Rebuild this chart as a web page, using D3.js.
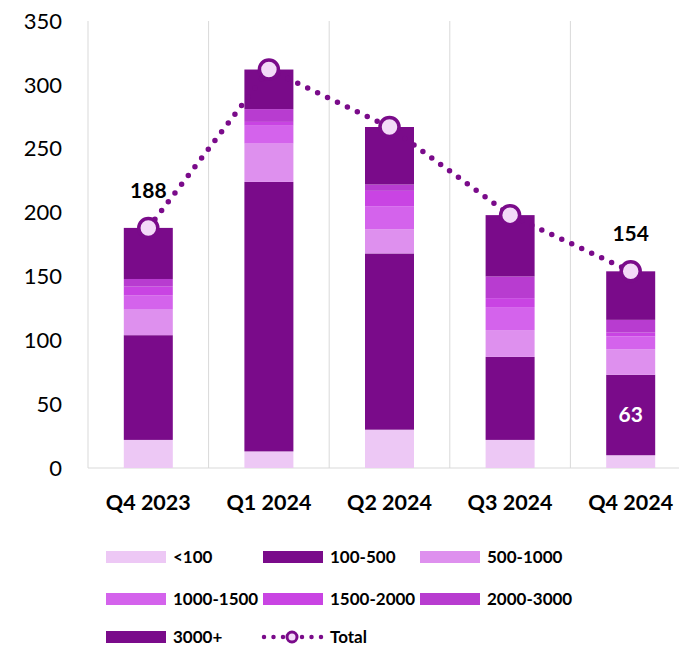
<!DOCTYPE html>
<html>
<head>
<meta charset="utf-8">
<script src="https://cdn.jsdelivr.net/npm/d3@7"></script>
<style>
  html, body { margin: 0; padding: 0; background: #fff; }
  svg { display: block; font-family: Lato, "Open Sans", sans-serif; }
</style>
</head>
<body>
<svg id="chart" width="679" height="648"></svg>
<script>
// Quarters on the x axis
const quarters = ["Q4 2023", "Q1 2024", "Q2 2024", "Q3 2024", "Q4 2024"];

// Stack segments, bottom to top
const seriesNames = ["<100", "100-500", "500-1000", "1000-1500", "1500-2000", "2000-3000", "3000+"];
const seriesColors = ["#EDC8F5", "#7A0B8A", "#DE90EE", "#D463EC", "#C944E3", "#B83CD0", "#7A0B8A"];

const under100   = [22, 13, 30, 22, 10];
const s100to500  = [82, 211, 138, 65, 63];
const s500to1000 = [20, 30, 19, 21, 20];
const s1000to1500 = [11, 14, 18, 18, 10];
const s1500to2000 = [7, 3, 12, 7, 3];
const s2000to3000 = [6, 10, 5, 17, 10];
const over3000   = [40, 31, 45, 48, 38];

const seriesValues = [under100, s100to500, s500to1000, s1000to1500, s1500to2000, s2000to3000, over3000];

// Totals per quarter (the dotted line)
const totals = quarters.map((q, i) => d3.sum(seriesValues, s => s[i]));

const yTicks = [0, 50, 100, 150, 200, 250, 300, 350];

const svg = d3.select("#chart");
const margin = { left: 88, top: 21, bottom: 468 };
const bandWidth = 120.6;

const x = d3.scaleBand()
  .domain(quarters)
  .range([margin.left, margin.left + bandWidth * quarters.length])
  .paddingInner(0)
  .paddingOuter(0);

const y = d3.scaleLinear().domain([0, 350]).range([margin.bottom, margin.top]);

const barWidth = 49;

// Vertical category gridlines
svg.append("g")
  .selectAll("line")
  .data(quarters)
  .join("line")
  .attr("x1", d => x(d))
  .attr("x2", d => x(d))
  .attr("y1", y(350))
  .attr("y2", y(0))
  .attr("stroke", "#D9D9D9")
  .attr("stroke-width", 1);

// Baseline
svg.append("line")
  .attr("x1", margin.left)
  .attr("x2", 679)
  .attr("y1", y(0))
  .attr("y2", y(0))
  .attr("stroke", "#D9D9D9")
  .attr("stroke-width", 1);

// Y tick labels
svg.append("g")
  .selectAll("text")
  .data(yTicks)
  .join("text")
  .attr("x", 62)
  .attr("y", d => y(d))
  .attr("dy", "0.35em")
  .attr("text-anchor", "end")
  .attr("font-size", 22)
  .attr("fill", "#000")
  .text(d => d);

// Stacked bars
const rows = quarters.map((q, i) => {
  const r = { quarter: q };
  seriesNames.forEach((n, k) => { r[n] = seriesValues[k][i]; });
  return r;
});
const stacked = d3.stack().keys(seriesNames)(rows);

svg.append("g")
  .selectAll("g")
  .data(stacked)
  .join("g")
  .attr("fill", (d, k) => seriesColors[k])
  .selectAll("rect")
  .data(d => d)
  .join("rect")
  .attr("x", d => x(d.data.quarter) + x.bandwidth() / 2 - barWidth / 2)
  .attr("width", barWidth)
  .attr("y", d => y(d[1]))
  .attr("height", d => y(d[0]) - y(d[1]));

// Category labels
svg.append("g")
  .selectAll("text")
  .data(quarters)
  .join("text")
  .attr("x", d => x(d) + x.bandwidth() / 2)
  .attr("y", 510)
  .attr("text-anchor", "middle")
  .attr("font-size", 21.5)
  .attr("font-weight", "bold")
  .text(d => d);

// Value label inside the last 100-500 segment
const lastIdx = quarters.length - 1;
svg.append("text")
  .attr("x", x(quarters[lastIdx]) + x.bandwidth() / 2)
  .attr("y", y(under100[lastIdx] + s100to500[lastIdx] / 2))
  .attr("dy", "0.35em")
  .attr("text-anchor", "middle")
  .attr("font-size", 21)
  .attr("font-weight", "bold")
  .attr("fill", "#fff")
  .text(s100to500[lastIdx]);

// Dotted total line
const lineColor = "#7A0B8A";
const line = d3.line()
  .x((d, i) => x(quarters[i]) + x.bandwidth() / 2)
  .y(d => y(d));

svg.append("path")
  .datum(totals)
  .attr("d", line)
  .attr("fill", "none")
  .attr("stroke", lineColor)
  .attr("stroke-width", 5.5)
  .attr("stroke-linecap", "round")
  .attr("stroke-dasharray", "0 11");

svg.append("g")
  .selectAll("circle")
  .data(totals)
  .join("circle")
  .attr("cx", (d, i) => x(quarters[i]) + x.bandwidth() / 2)
  .attr("cy", d => y(d))
  .attr("r", 9.5)
  .attr("fill", "#F3DAF8")
  .attr("stroke", lineColor)
  .attr("stroke-width", 3.5);

// Total labels on the first and last quarter
svg.append("g")
  .selectAll("text")
  .data([0, lastIdx])
  .join("text")
  .attr("x", i => x(quarters[i]) + x.bandwidth() / 2)
  .attr("y", i => y(totals[i]) - 30)
  .attr("text-anchor", "middle")
  .attr("font-size", 21)
  .attr("font-weight", "bold")
  .text(i => totals[i]);

// Legend
const legendCols = [106, 263, 420];
const legendRows = [557, 599, 637];
const legend = svg.append("g").attr("font-size", 17).attr("font-weight", "bold");

seriesNames.forEach((n, k) => {
  const cx = legendCols[k % 3];
  const cy = legendRows[Math.floor(k / 3)];
  legend.append("rect")
    .attr("x", cx).attr("y", cy - 6)
    .attr("width", 60).attr("height", 12)
    .attr("fill", seriesColors[k]);
  legend.append("text")
    .attr("x", cx + 67).attr("y", cy)
    .attr("dy", "0.35em")
    .text(n);
});

// Legend entry for the total line
{
  const cx = legendCols[1];
  const cy = legendRows[2];
  legend.append("line")
    .attr("x1", cx + 1).attr("x2", cx + 59)
    .attr("y1", cy).attr("y2", cy)
    .attr("stroke", lineColor)
    .attr("stroke-width", 4.5)
    .attr("stroke-linecap", "round")
    .attr("stroke-dasharray", "0 9.5");
  legend.append("circle")
    .attr("cx", cx + 29).attr("cy", cy)
    .attr("r", 5)
    .attr("fill", "#F3DAF8")
    .attr("stroke", lineColor)
    .attr("stroke-width", 3);
  legend.append("text")
    .attr("x", cx + 67).attr("y", cy)
    .attr("dy", "0.35em")
    .text("Total");
}
</script>
</body>
</html>
